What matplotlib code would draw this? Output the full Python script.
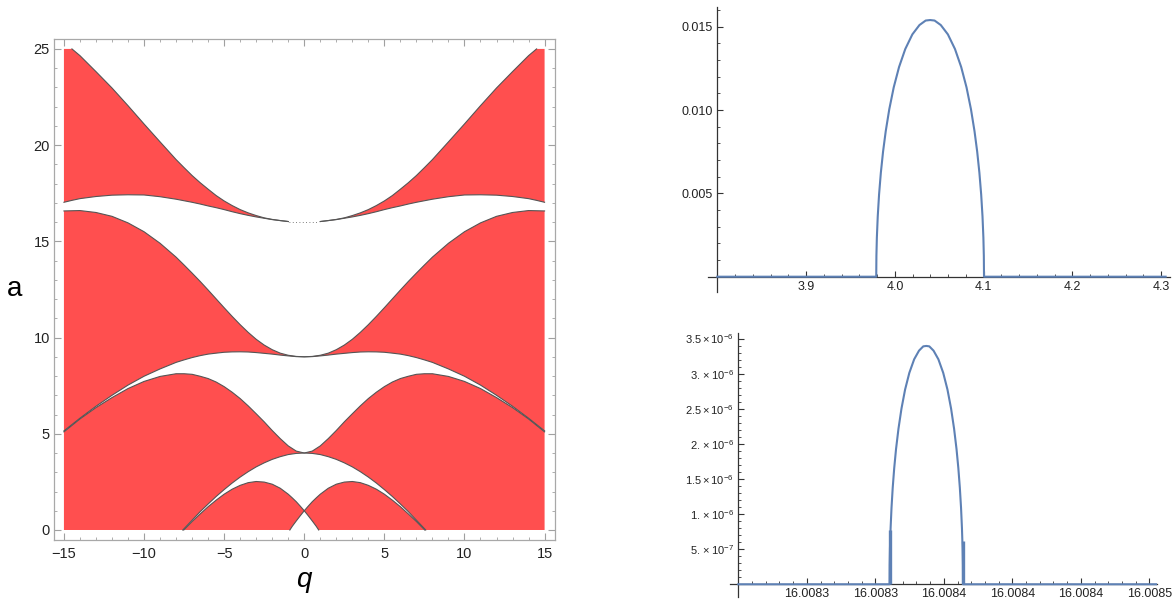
import numpy as np
import matplotlib.pyplot as plt
from matplotlib.ticker import MultipleLocator, FixedLocator

plt.rcParams['font.family'] = ['Liberation Sans', 'DejaVu Sans']
plt.rcParams['mathtext.fontset'] = 'custom'
plt.rcParams['mathtext.rm'] = 'Liberation Sans'
plt.rcParams['mathtext.it'] = 'Liberation Sans:italic'

# ---- left panel: edges of the unstable tongues, read for q >= 0 (chart is symmetric)
q_b1 = [0, 0.25, 0.5, 0.75, 0.9]
b1 = [1.0, 0.74, 0.47, 0.19, 0.0]

q_a1 = [0, 0.25, 0.5, 0.75, 1, 1.5, 2, 2.5, 3, 3.5, 4, 4.5, 5, 5.5, 6, 6.5, 7, 7.52]
a1 = [1.0, 1.24, 1.47, 1.67, 1.86, 2.17, 2.38, 2.49, 2.52, 2.46, 2.32, 2.12, 1.86, 1.55, 1.21, 0.83, 0.44, 0.0]

q_b2 = [0, 0.5, 1, 1.5, 2, 2.5, 3, 3.5, 4, 4.5, 5, 5.5, 6, 6.5, 7, 7.58]
b2 = [4.0, 3.98, 3.92, 3.81, 3.67, 3.49, 3.28, 3.03, 2.75, 2.44, 2.10, 1.74, 1.35, 0.95, 0.51, 0.0]

q_mid = [0, 0.5, 1, 1.5, 2, 2.5, 3, 3.5, 4, 4.5, 5, 5.5, 6, 6.5, 7, 7.5, 8, 9, 10, 11, 12, 13, 14, 15]
a2 = [4.0, 4.10, 4.37, 4.75, 5.17, 5.62, 6.04, 6.45, 6.83, 7.16, 7.45, 7.69, 7.87, 7.99, 8.09, 8.12,
      8.12, 7.98, 7.72, 7.35, 6.88, 6.36, 5.77, 5.10]
b3 = [9.0, 9.01, 9.047, 9.09, 9.14, 9.18, 9.22, 9.25, 9.26, 9.255, 9.236, 9.19, 9.14, 9.06, 8.96, 8.84,
      8.71, 8.37, 7.99, 7.53, 7.0, 6.43, 5.81, 5.15]
a3 = [9.0, 9.02, 9.08, 9.19, 9.37, 9.61, 9.91, 10.27, 10.67, 11.1, 11.55, 12.01, 12.47, 12.92, 13.35,
      13.77, 14.18, 14.9, 15.5, 15.96, 16.3, 16.5, 16.6, 16.58]

q_top = [0, 0.5, 1, 1.5, 2, 2.5, 3, 3.5, 4, 4.5, 5, 5.5, 6, 6.5, 7, 7.5, 8, 9, 10, 11, 12, 13, 14, 14.5, 15]
b4 = [16.0, 16.01, 16.03, 16.08, 16.13, 16.2, 16.27, 16.35, 16.44, 16.54, 16.65, 16.75, 16.84, 16.94,
      17.03, 17.11, 17.19, 17.32, 17.41, 17.42, 17.40, 17.33, 17.22, 17.13, 17.03]
a4 = [16.0, 16.01, 16.03, 16.08, 16.14, 16.22, 16.34, 16.48, 16.65, 16.86, 17.10, 17.38, 17.71, 18.05,
      18.42, 18.83, 19.25, 20.17, 21.10, 22.05, 22.97, 23.82, 24.65, 25.0, 25.4]

# ---- top right: growth rate around a = 4
x_top = [3.800, 3.9790, 3.9792, 3.9797, 3.9807, 3.9822, 3.9842, 3.9867, 3.9897, 3.9937, 3.9987,
         4.0047, 4.0117, 4.0197, 4.0277, 4.0347, 4.0397, 4.0447, 4.0517, 4.0597, 4.0677, 4.0747,
         4.0807, 4.0857, 4.0897, 4.0927, 4.0952, 4.0972, 4.0987, 4.0997, 4.1002, 4.1004, 4.305]
y_top = [0, 0, 0.00125, 0.00234, 0.00362, 0.00494, 0.00624, 0.00751, 0.00873, 0.01005, 0.01136,
         0.01258, 0.01366, 0.01454, 0.01510, 0.01537, 0.0154, 0.01537, 0.01510, 0.01454, 0.01366,
         0.01258, 0.01136, 0.01005, 0.00873, 0.00751, 0.00624, 0.00494, 0.00362, 0.00234, 0.00125, 0, 0]

# ---- bottom right: growth rate around a = 16, x as offset from 16.0083 in units of 1e-6, y in 1e-6
a_base = 16.0083
dx_bot = [0, 55.2, 55.24, 55.35, 55.58, 55.91, 56.35, 56.9, 57.56, 58.45, 59.55, 60.87, 62.42, 64.18,
          65.95, 67.5, 68.6, 69.7, 71.25, 73.02, 74.78, 76.33, 77.65, 78.75, 79.64, 80.3, 80.85, 81.29,
          81.62, 81.85, 81.96, 82.0, 152.5]
y_bot = [0, 0, 0.276, 0.515, 0.798, 1.088, 1.375, 1.655, 1.925, 2.215, 2.503, 2.774, 3.012, 3.205,
         3.328, 3.389, 3.395, 3.389, 3.328, 3.205, 3.012, 2.774, 2.503, 2.215, 1.925, 1.655, 1.375,
         1.088, 0.798, 0.515, 0.276, 0, 0]
spike_x = [55.3, 81.9]
spike_h = [0.77, 0.62]
bot_ticks = [25, 50, 75, 100, 125, 150]
bot_tick_labels = ['16.0083', '16.0083', '16.0084', '16.0084', '16.0084', '16.0085']
bot_yticks = [0.5, 1.0, 1.5, 2.0, 2.5, 3.0, 3.5]
bot_ylabels = [r'$5.\times10^{-7}$', r'$1.\times10^{-6}$', r'$1.5\times10^{-6}$', r'$2.\times10^{-6}$',
               r'$2.5\times10^{-6}$', r'$3.\times10^{-6}$', r'$3.5\times10^{-6}$']

red = '#ff4f4f'
edge = '#555555'
blue = '#5e81b5'


def mirror(q, v):
    q = np.asarray(q, float)
    v = np.asarray(v, float)
    return np.concatenate([-q[::-1], q[1:]]), np.concatenate([v[::-1], v[1:]])


fig = plt.figure(figsize=(11.73, 6.01), dpi=100)

ax = fig.add_axes([54 / 1173, 61 / 601, 501 / 1173, 500.7 / 601])

# tongue 1
qa, va = mirror(q_a1, a1)
qb, vb = mirror(q_b1, b1)
ax.fill(np.concatenate([qa, qb[::-1]]), np.concatenate([va, vb[::-1]]), color=red, lw=0, zorder=1)
# tongue 2
qa, va = mirror(q_mid, a2)
qb, vb = mirror(q_b2, b2)
ax.fill(np.concatenate([qa, [15], qb[::-1], [-15]]), np.concatenate([va, [0], vb[::-1], [0]]),
        color=red, lw=0, zorder=1)
# tongue 3
qa, va = mirror(q_mid, a3)
qb, vb = mirror(q_mid, b3)
ax.fill(np.concatenate([qa, qb[::-1]]), np.concatenate([va, vb[::-1]]), color=red, lw=0, zorder=1)
# tongue 4, cut at a = 25
qa, va = mirror(q_top, np.minimum(a4, 25))
qb, vb = mirror(q_top, b4)
ax.fill(np.concatenate([qa, qb[::-1]]), np.concatenate([va, vb[::-1]]), color=red, lw=0, zorder=1)

for qq, vv in [(q_a1, a1), (q_b1, b1), (q_b2, b2), (q_mid, a2), (q_mid, b3), (q_mid, a3)]:
    x, y = mirror(qq, vv)
    ax.plot(x, y, color=edge, lw=0.8, zorder=2)
for vv in [a4, b4]:
    x, y = mirror(q_top, vv)
    y = np.where((np.abs(x) < 1) | (y > 25.001), np.nan, y)
    ax.plot(x, y, color=edge, lw=0.8, zorder=2)
ax.plot([-0.95, 0.95], [16, 16], color=edge, lw=0.6, ls=(0, (1, 3)), zorder=2)

ax.set_xlim(-15.62, 15.65)
ax.set_ylim(-0.52, 25.5)
ax.xaxis.set_major_locator(MultipleLocator(5))
ax.xaxis.set_minor_locator(MultipleLocator(1))
ax.yaxis.set_major_locator(MultipleLocator(5))
ax.yaxis.set_minor_locator(MultipleLocator(1))
ax.tick_params(which='both', direction='in', top=True, right=True, color='#a0a0a0',
               labelsize=10.5, labelcolor='#222222')
ax.tick_params(which='major', length=5)
ax.tick_params(which='minor', length=2.5)
ax.tick_params(axis='x', pad=5)
ax.tick_params(axis='y', pad=3)
for s in ax.spines.values():
    s.set_color('#a8a8a8')
    s.set_linewidth(0.9)

fig.text(15 / 1173, 1 - 289 / 601, 'a', fontsize=20, ha='center', va='center')
fig.text(304 / 1173, 1 - 580 / 601, 'q', fontsize=20, style='italic', ha='center', va='center')

# ---- top right
ax2 = fig.add_axes([708 / 1173, 1 - 291.7 / 601, 462 / 1173, 285 / 601])
ax2.plot(x_top, y_top, color=blue, lw=1.5, zorder=3)
ax2.set_xlim(3.7895, 4.3099)
ax2.set_ylim(-0.0009, 0.0162)
ax2.spines['top'].set_visible(False)
ax2.spines['right'].set_visible(False)
ax2.spines['left'].set_position(('data', 3.80))
ax2.spines['bottom'].set_position(('data', 0))
ax2.xaxis.set_major_locator(FixedLocator([3.9, 4.0, 4.1, 4.2, 4.3]))
ax2.xaxis.set_minor_locator(FixedLocator([3.82 + 0.02 * i for i in range(25) if i % 5 != 4]))
ax2.set_xticklabels(['3.9', '4.0', '4.1', '4.2', '4.3'])
ax2.yaxis.set_major_locator(FixedLocator([0.005, 0.010, 0.015]))
ax2.yaxis.set_minor_locator(FixedLocator([0.001 * i for i in range(1, 17) if i % 5 != 0]))
ax2.set_yticklabels(['0.005', '0.010', '0.015'])

# ---- bottom right
ax3 = fig.add_axes([730 / 1173, 1 - 596.7 / 601, 427 / 1173, 263.4 / 601])
ax3.plot(dx_bot, y_bot, color=blue, lw=1.5, zorder=3)
ax3.vlines(spike_x, 0, spike_h, color=blue, lw=2.4, zorder=3)
ax3.set_xlim(-3.03, 152.8)
ax3.set_ylim(-0.177, 3.575)
ax3.spines['top'].set_visible(False)
ax3.spines['right'].set_visible(False)
ax3.spines['left'].set_position(('data', 0))
ax3.spines['bottom'].set_position(('data', 0))
ax3.xaxis.set_major_locator(FixedLocator(bot_ticks))
ax3.xaxis.set_minor_locator(FixedLocator([5 * i for i in range(1, 31) if i % 5 != 0]))
ax3.set_xticklabels(bot_tick_labels)
ax3.yaxis.set_major_locator(FixedLocator(bot_yticks))
ax3.yaxis.set_minor_locator(FixedLocator([0.1 * i for i in range(1, 36) if i % 5 != 0]))
ax3.set_yticklabels(bot_ylabels)

for a_ in (ax2, ax3):
    for s in ('left', 'bottom'):
        a_.spines[s].set_color('#333333')
        a_.spines[s].set_linewidth(0.9)
    a_.tick_params(which='both', direction='in', color='#333333', labelcolor='#222222')
    a_.tick_params(which='major', length=4, labelsize=9, pad=3)
    a_.tick_params(which='minor', length=2.2)
ax3.tick_params(axis='y', which='major', labelsize=8)

fig.savefig('out.png', dpi=100)
